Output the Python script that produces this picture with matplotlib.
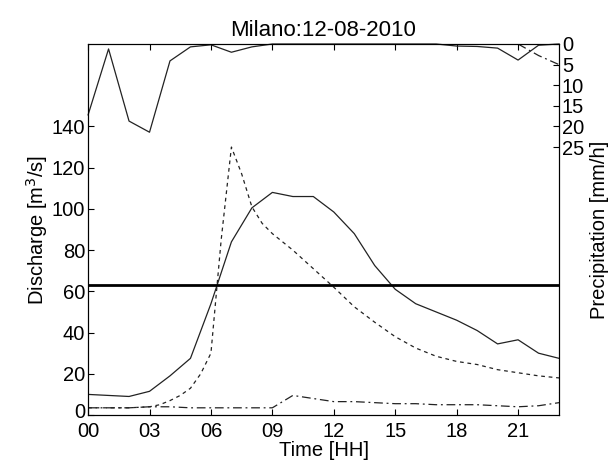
import matplotlib
matplotlib.use("Agg")
import matplotlib.pyplot as plt
import matplotlib.transforms as mtransforms

plt.rcParams['font.family'] = ['Liberation Sans', 'DejaVu Sans']

# hourly observed discharge (solid)
hours = list(range(24))
q_obs = [10, 9.5, 9, 11.5, 19, 27.5, 54, 84, 100.5, 108, 106, 106,
         98.5, 88, 72.5, 61, 54, 50, 46, 41, 34.5, 36.5, 30, 27.5]

# simulated discharge (dashed), finer steps around the peak
t_sim = [0, 1, 2, 3, 3.5, 4, 4.5, 5, 5.5, 6, 6.5, 7, 7.5, 8, 8.5, 9, 10, 11,
         12, 13, 14, 15, 16, 17, 18, 19, 20, 21, 22, 23]
q_sim = [3.5, 3.5, 3.5, 4, 5, 7, 9.5, 13, 20, 30, 85, 130, 117, 101, 93, 88,
         80, 71, 62, 52.5, 45, 38, 32.5, 28.5, 26, 24.5, 22, 20.5, 19, 18]

# second simulated discharge (dash-dot)
q_alt = [3.5, 3.5, 3.5, 4, 4, 3.5, 3.5, 3.5, 3.5, 3.5, 9.5, 8, 6.5, 6.5, 6,
         5.5, 5.5, 5, 5, 5, 4.5, 4, 4.5, 6]

threshold = 63

# precipitation (right axis, inverted)
p_obs = [17.2, 1.2, 18.7, 21.4, 4.1, 0.7, 0.2, 2, 0.7, 0, 0, 0, 0, 0, 0, 0,
         0, 0, 0.5, 0.6, 1, 3.9, 0.3, 0]
t_fc = [21, 22, 23]
p_fc = [0, 2.8, 5]

xticks = [0, 3, 6, 9, 12, 15, 18, 21]
xlabels = ['00', '03', '06', '09', '12', '15', '18', '21']

fig = plt.figure(figsize=(6.16, 4.68), dpi=100)
ax = fig.add_axes([0.143, 0.1132, 0.7645, 0.7928])

ax.plot(hours, q_obs, color='#222222', lw=0.9, ls='-')
ax.plot(t_sim, q_sim, color='#222222', lw=0.9, ls=(0, (3, 3)))
ax.plot(hours, q_alt, color='#222222', lw=0.9, ls=(0, (7, 3, 1.5, 3)))
ax.axhline(threshold, color='black', lw=2)

ax.set_xlim(0, 23)
ax.set_ylim(0, 180)
ax.set_yticks([0, 20, 40, 60, 80, 100, 120, 140])
ax.set_xticks(xticks)
ax.set_xticklabels(xlabels)
ax.tick_params(direction='in', top=True, right=True, labelsize=14.5, length=4)
ax.tick_params(axis='y', pad=2)
ax.tick_params(axis='x', pad=5)
ax.set_xlabel('Time [HH]', fontsize=14.5, labelpad=0)
ax.set_ylabel('Discharge [m$^3$/s]', fontsize=14.5, labelpad=1)
ax.set_title('Milano:12-08-2010', fontsize=16, pad=6)

# nudge the "0" label up a little so it clears the "00" below it
fig.canvas.draw()
zero_lbl = ax.get_yticklabels()[0]
zero_lbl.set_transform(zero_lbl.get_transform() +
                       mtransforms.ScaledTranslation(0, 3 / 72, fig.dpi_scale_trans))

ax2 = ax.twinx()
ax2.plot(hours, p_obs, color='#222222', lw=0.9, ls='-', clip_on=False)
ax2.plot(t_fc, p_fc, color='#222222', lw=0.9, ls=(0, (7, 3, 1.5, 3)))
ax2.set_ylim(90, 0)
ax2.set_xlim(0, 23)
ax2.set_yticks([0, 5, 10, 15, 20, 25])
ax2.tick_params(direction='in', labelsize=14.5, length=4, pad=2)
ax2.set_ylabel('Precipitation [mm/h]', fontsize=14.5, labelpad=4)

for a in (ax, ax2):
    for s in a.spines.values():
        s.set_linewidth(0.8)

fig.savefig('out.png', dpi=100)
